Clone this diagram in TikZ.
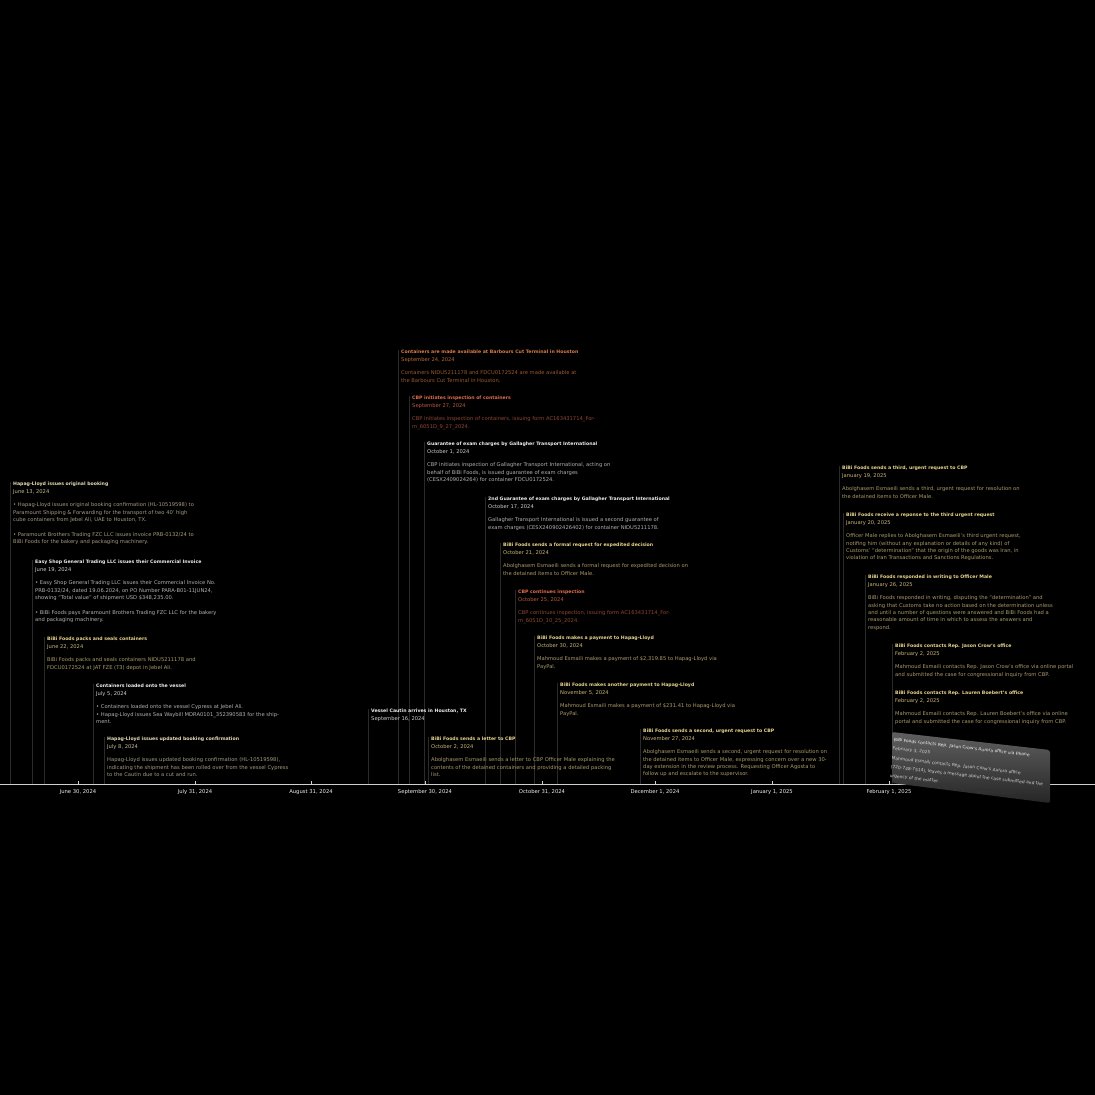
\documentclass[tikz,border=0pt]{standalone}
\usepackage{fontspec}
\setmainfont{DejaVu Sans}
\usepackage{xcolor}
\usetikzlibrary{calc,backgrounds}

\definecolor{bg}{HTML}{000000}
\definecolor{linegray}{HTML}{2A2A2A}
\definecolor{axisgray}{HTML}{CFCFCF}
\definecolor{hapT}{HTML}{E9DDB8}
\definecolor{hapD}{HTML}{C9BD9A}
\definecolor{hapB}{HTML}{A59B80}
\definecolor{shipT}{HTML}{F0F0F0}
\definecolor{shipD}{HTML}{CFCFCF}
\definecolor{shipB}{HTML}{B2B2B2}
\definecolor{bibiT}{HTML}{E9D58E}
\definecolor{bibiD}{HTML}{C9B67A}
\definecolor{bibiB}{HTML}{AA9A6A}
\definecolor{cbpT}{HTML}{E26E4A}
\definecolor{cbpD}{HTML}{BA5A3E}
\definecolor{cbpB}{HTML}{904632}
\definecolor{termT}{HTML}{D97E4A}
\definecolor{termD}{HTML}{B86A3A}
\definecolor{termB}{HTML}{9C5832}
\definecolor{cardtop}{HTML}{5F5F5F}
\definecolor{cardbot}{HTML}{262626}

\newcommand{\evtitle}{\fontsize{4.65}{7.3}\selectfont\bfseries}

\tikzset{
  evt/.style={anchor=north west, inner xsep=3pt, inner ysep=0pt, align=left,
    font=\fontsize{5.2}{7.3}\selectfont},
  evline/.style={draw=linegray, line width=0.6pt},
  axisline/.style={draw=axisgray, line width=0.8pt},
  datelbl/.style={text=shipT, font=\fontsize{5.25}{6}\selectfont, inner sep=0pt},
  cardtxt/.style={anchor=north west, inner sep=0pt, align=left, rotate=-6.5,
    font=\fontsize{4.4}{8.8}\selectfont, text=shipD}
}

\begin{document}
\begin{tikzpicture}[x=1pt,y=-1pt]
    \begin{pgfonlayer}{background}
    \fill[bg] (0,0) rectangle (1095,1095);
    \end{pgfonlayer}
    \useasboundingbox (0,0) rectangle (1095,1095);

    % events, June - July 2024
    \node[evt, text=hapB] (booking) at (10,482) {\textcolor{hapT}{\evtitle Hapag-Lloyd issues original booking}\\
      \textcolor{hapD}{June 13, 2024}\\[6.6pt]
      \textbullet{} Hapag-Lloyd issues original booking confirmation (HL-10519598) to\\
      Paramount Shipping \& Forwarding for the transport of two 40' high\\
      cube containers from Jebel Ali, UAE to Houston, TX.\\[7.7pt]
      \textbullet{} Paramount Brothers Trading FZC LLC issues invoice PRB-0132/24 to\\
      BiBi Foods for the bakery and packaging machinery.};
    \node[evt, text=shipB] (invoice) at (32,560) {\textcolor{shipT}{\evtitle Easy Shop General Trading LLC issues their Commercial Invoice}\\
      \textcolor{shipD}{June 19, 2024}\\[6.6pt]
      \textbullet{} Easy Shop General Trading LLC issues their Commercial Invoice No.\\
      PRB-0132/24, dated 19.06.2024, on PO Number PARA-B01-11JUN24,\\
      showing ``Total value'' of shipment USD \$348,235.00.\\[7.7pt]
      \textbullet{} BiBi Foods pays Paramount Brothers Trading FZC LLC for the bakery\\
      and packaging machinery.};
    \node[evt, text=bibiB] (packing) at (44,637) {\textcolor{bibiT}{\evtitle BiBi Foods packs and seals containers}\\
      \textcolor{bibiD}{June 22, 2024}\\[6.6pt]
      BiBi Foods packs and seals containers NIDU5211178 and\\
      FDCU0172524 at JAT FZE (T3) depot in Jebel Ali.};
    \node[evt, text=shipB] (loading) at (93,684) {\textcolor{shipT}{\evtitle Containers loaded onto the vessel}\\
      \textcolor{shipD}{July 5, 2024}\\[6.6pt]
      \textbullet{} Containers loaded onto the vessel Cypress at Jebel Ali.\\
      \textbullet{} Hapag-Lloyd issues Sea Waybill MDRA0101\_352390583 for the ship-\\
      ment.};
    \node[evt, text=hapB] (rebook) at (104,737) {\textcolor{hapT}{\evtitle Hapag-Lloyd issues updated booking confirmation}\\
      \textcolor{hapD}{July 8, 2024}\\[6.6pt]
      Hapag-Lloyd issues updated booking confirmation (HL-10519598),\\
      indicating the shipment has been rolled over from the vessel Cypress\\
      to the Cautin due to a cut and run.};

    % events, September - November 2024
    \node[evt, text=shipB] (arrival) at (368,709) {\textcolor{shipT}{\evtitle Vessel Cautin arrives in Houston, TX}\\
      \textcolor{shipD}{September 16, 2024}};
    \node[evt, text=termB] (available) at (398,350) {\textcolor{termT}{\evtitle Containers are made available at Barbours Cut Terminal in Houston}\\
      \textcolor{termD}{September 24, 2024}\\[6.6pt]
      Containers NIDU5211178 and FDCU0172524 are made available at\\
      the Barbours Cut Terminal in Houston.};
    \node[evt, text=cbpB] (inspect) at (409,396) {\textcolor{cbpT}{\evtitle CBP initiates inspection of containers}\\
      \textcolor{cbpD}{September 27, 2024}\\[6.6pt]
      CBP initiates inspection of containers, issuing form AC163431714\_For-\\
      m\_6051D\_9\_27\_2024.};
    \node[evt, text=shipB] (guarantee) at (424,442) {\textcolor{shipT}{\evtitle Guarantee of exam charges by Gallagher Transport International}\\
      \textcolor{shipD}{October 1, 2024}\\[6.6pt]
      CBP initiates inspection of Gallagher Transport International, acting on\\
      behalf of BiBi Foods, is issued guarantee of exam charges\\
      (CESX2409024264) for container FDCU0172524.};
    \node[evt, text=bibiB] (letter) at (428,737) {\textcolor{bibiT}{\evtitle BiBi Foods sends a letter to CBP}\\
      \textcolor{bibiD}{October 2, 2024}\\[6.6pt]
      Abolghasem Esmaeili sends a letter to CBP Officer Male explaining the\\
      contents of the detained containers and providing a detailed packing\\
      list.};
    \node[evt, text=shipB] (guarantee2) at (485,497) {\textcolor{shipT}{\evtitle 2nd Guarantee of exam charges by Gallagher Transport International}\\
      \textcolor{shipD}{October 17, 2024}\\[6.6pt]
      Gallagher Transport International is issued a second guarantee of\\
      exam charges (CESX240902426402) for container NIDU5211178.};
    \node[evt, text=bibiB] (formalreq) at (500,543) {\textcolor{bibiT}{\evtitle BiBi Foods sends a formal request for expedited decision}\\
      \textcolor{bibiD}{October 21, 2024}\\[6.6pt]
      Abolghasem Esmaeili sends a formal request for expedited decision on\\
      the detained items to Officer Male.};
    \node[evt, text=cbpB] (inspect2) at (515,590) {\textcolor{cbpT}{\evtitle CBP continues inspection}\\
      \textcolor{cbpD}{October 25, 2024}\\[6.6pt]
      CBP continues inspection, issuing form AC163431714\_For-\\
      m\_6051D\_10\_25\_2024.};
    \node[evt, text=bibiB] (payment) at (534,636) {\textcolor{bibiT}{\evtitle BiBi Foods makes a payment to Hapag-Lloyd}\\
      \textcolor{bibiD}{October 30, 2024}\\[6.6pt]
      Mahmoud Esmaili makes a payment of \$2,319.85 to Hapag-Lloyd via\\
      PayPal.};
    \node[evt, text=bibiB] (payment2) at (557,683) {\textcolor{bibiT}{\evtitle BiBi Foods makes another payment to Hapag-Lloyd}\\
      \textcolor{bibiD}{November 5, 2024}\\[6.6pt]
      Mahmoud Esmaili makes a payment of \$231.41 to Hapag-Lloyd via\\
      PayPal.};
    \node[evt, text=bibiB] (urgent2) at (640,729) {\textcolor{bibiT}{\evtitle BiBi Foods sends a second, urgent request to CBP}\\
      \textcolor{bibiD}{November 27, 2024}\\[6.6pt]
      Abolghasem Esmaeili sends a second, urgent request for resolution on\\
      the detained items to Officer Male, expressing concern over a new 30-\\
      day extension in the review process. Requesting Officer Agosta to\\
      follow up and escalate to the supervisor.};

    % events, January - February 2025
    \node[evt, text=bibiB] (urgent3) at (839,466) {\textcolor{bibiT}{\evtitle BiBi Foods sends a third, urgent request to CBP}\\
      \textcolor{bibiD}{January 19, 2025}\\[6.6pt]
      Abolghasem Esmaeili sends a third, urgent request for resolution on\\
      the detained items to Officer Male.};
    \node[evt, text=bibiB] (reply) at (843,513) {\textcolor{bibiT}{\evtitle BiBi Foods receive a reponse to the third urgent request}\\
      \textcolor{bibiD}{January 20, 2025}\\[6.6pt]
      Officer Male replies to Abolghasem Esmaeili's third urgent request,\\
      notifing him (without any explanation or details of any kind) of\\
      Customs' ``determination'' that the origin of the goods was Iran, in\\
      violation of Iran Transactions and Sanctions Regulations.};
    \node[evt, text=bibiB] (written) at (865,575) {\textcolor{bibiT}{\evtitle BiBi Foods responded in writing to Officer Male}\\
      \textcolor{bibiD}{January 26, 2025}\\[6.6pt]
      BiBi Foods responded in writing, disputing the ``determination'' and\\
      asking that Customs take no action based on the determination unless\\
      and until a number of questions were answered and BiBi Foods had a\\
      reasonable amount of time in which to assess the answers and\\
      respond.};
    \node[evt, text=bibiB] (crow) at (892,644) {\textcolor{bibiT}{\evtitle BiBi Foods contacts Rep. Jason Crow's office}\\
      \textcolor{bibiD}{February 2, 2025}\\[6.6pt]
      Mahmoud Esmaili contacts Rep. Jason Crow's office via online portal\\
      and submitted the case for congressional inquiry from CBP.};
    \node[evt, text=bibiB] (boebert) at (892,691) {\textcolor{bibiT}{\evtitle BiBi Foods contacts Rep. Lauren Boebert's office}\\
      \textcolor{bibiD}{February 2, 2025}\\[6.6pt]
      Mahmoud Esmaili contacts Rep. Lauren Boebert's office via online\\
      portal and submitted the case for congressional inquiry from CBP.};

    % time axis
    \coordinate (axisL) at (0,784);
    \coordinate (axisR) at (1095,784);
    \begin{pgfonlayer}{background}
    \foreach \e in {booking,invoice,packing,loading,rebook,arrival,available,inspect,
        guarantee,letter,guarantee2,formalreq,inspect2,payment,payment2,urgent2,
        urgent3,reply,written,crow,boebert}
        \draw[evline] (\e.north west) -- (\e.north west |- axisL);
    \end{pgfonlayer}
    \draw[axisline] (axisL) -- (axisR);
    \foreach \x/\d in {78/{June 30, 2024}, 195/{July 31, 2024}, 311/{August 31, 2024},
        425/{September 30, 2024}, 542/{October 31, 2024}, 655/{December 1, 2024},
        772/{January 1, 2025}, 889/{February 1, 2025}}{
        \draw[axisgray, line width=0.6pt] (\x,781) -- (\x,784);
        \node[datelbl] (t\x) at (\x,792) {\d};
    }

    % card of the last event
    \shade[top color=cardtop, bottom color=cardbot, rounded corners=2pt]
        (892,732) -- (1050,750) -- (1050,803) -- (892,783) -- cycle;
    \node[datelbl, text=gray!42!black] (t996) at (996,793) {March 1, 2025};
    \node[cardtxt] (aurora) at (894,737.5) {\textcolor{shipT}{BiBi Foods contacts Rep. Jason Crow's Aurora office via phone}\\
      February 3, 2025\\[1.2pt]
      Mahmoud Esmaili contacts Rep. Jason Crow's Aurora office\\
      (720-748-7514), leaves a message about the case submitted and the\\
      urgency of the matter.};
\end{tikzpicture}
\end{document}
